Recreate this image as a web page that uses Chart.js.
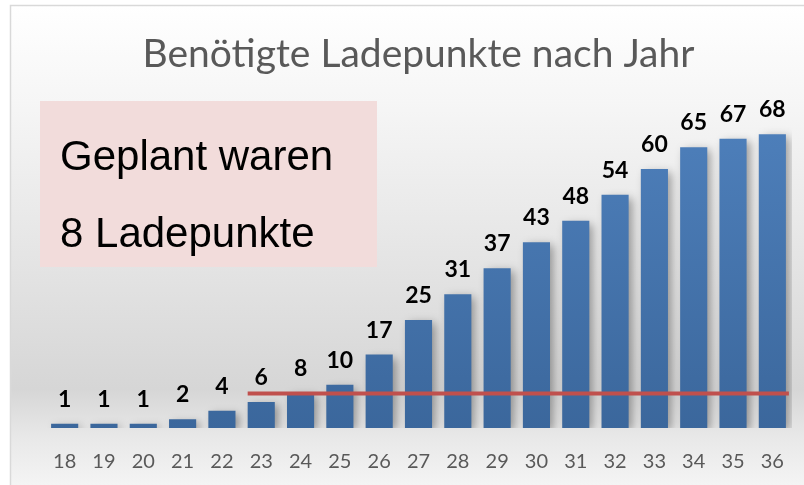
<!DOCTYPE html>
<html lang="de">
<head>
<meta charset="UTF-8">
<title>Benötigte Ladepunkte nach Jahr</title>
<script src="https://cdn.jsdelivr.net/npm/chart.js@4"></script>
<style>
  html, body { margin: 0; padding: 0; background: #fff; }
  #wrap { width: 804px; height: 485px; }
</style>
</head>
<body>
<div id="wrap"><canvas id="chart" width="804" height="485"></canvas></div>
<script>
// data
const years = ['18', '19', '20', '21', '22', '23', '24', '25', '26', '27', '28', '29', '30', '31', '32', '33', '34', '35', '36'];
const ladepunkte = [1, 1, 1, 2, 4, 6, 8, 10, 17, 25, 31, 37, 43, 48, 54, 60, 65, 67, 68];
const geplant = 8;
const geplantStartIndex = 5; // line starts at year 23
const boxLines = ['Geplant waren', '8 Ladepunkte'];

// frame background + bar shadow + labels + red line + pink box
const decor = {
  id: 'decor',
  beforeDraw(chart) {
    const ctx = chart.ctx;
    ctx.save();
    ctx.fillStyle = '#ffffff';
    ctx.fillRect(0, 0, chart.width, chart.height);
    const g = ctx.createLinearGradient(0, 5, 0, 485);
    g.addColorStop(0, '#ffffff');
    g.addColorStop(0.2, '#f6f6f6');
    g.addColorStop(0.8, '#d6d6d6');
    g.addColorStop(0.9, '#e8e8e8');
    g.addColorStop(1, '#f4f4f4');
    ctx.fillStyle = g;
    ctx.fillRect(10, 5, 810, 490);
    ctx.strokeStyle = '#d9d9d9';
    ctx.lineWidth = 1.5;
    ctx.strokeRect(10.5, 5.5, 810, 490);
    ctx.restore();
  },
  beforeDatasetsDraw(chart) {
    const ctx = chart.ctx;
    ctx.save();
    ctx.shadowColor = 'rgba(0,0,0,0.35)';
    ctx.shadowBlur = 9;
    ctx.shadowOffsetX = 4;
    ctx.shadowOffsetY = 3;
  },
  afterDatasetsDraw(chart) {
    const ctx = chart.ctx;
    ctx.restore();
    const meta = chart.getDatasetMeta(0);
    const y = chart.scales.y;

    // red "geplant" line
    const first = meta.data[geplantStartIndex];
    const last = meta.data[meta.data.length - 1];
    const yy = y.getPixelForValue(geplant);
    ctx.save();
    ctx.strokeStyle = '#c0504d';
    ctx.lineWidth = 4;
    ctx.beginPath();
    ctx.moveTo(first.x - first.width / 2, yy);
    ctx.lineTo(last.x + last.width / 2 + 3, yy);
    ctx.stroke();

    // value labels
    ctx.fillStyle = '#000000';
    ctx.font = 'bold 23px Lato';
    ctx.textAlign = 'center';
    ctx.textBaseline = 'alphabetic';
    meta.data.forEach((bar, i) => {
      ctx.fillText(String(ladepunkte[i]), bar.x, bar.y - 17);
    });

    // pink box
    ctx.fillStyle = '#f2dcdb';
    ctx.fillRect(40, 101, 337, 166);
    ctx.fillStyle = '#000000';
    ctx.font = '42px "Liberation Sans"';
    ctx.textAlign = 'left';
    ctx.textBaseline = 'middle';
    ctx.fillText(boxLines[0], 60, 158);
    ctx.fillText(boxLines[1], 60, 235);
    ctx.restore();
  }
};

const ctx = document.getElementById('chart').getContext('2d');
new Chart(ctx, {
  type: 'bar',
  data: {
    labels: years,
    datasets: [{
      data: ladepunkte,
      backgroundColor(c) {
        const area = c.chart.chartArea;
        if (!area) return '#4a7ebb';
        const g = c.chart.ctx.createLinearGradient(0, area.top, 0, area.bottom);
        g.addColorStop(0, '#4f81bd');
        g.addColorStop(1, '#3b679c');
        return g;
      },
      borderWidth: 0,
      categoryPercentage: 1,
      barPercentage: 0.69
    }]
  },
  options: {
    responsive: false,
    animation: false,
    layout: { padding: { left: 45, right: 12, top: 0, bottom: 12 } },
    plugins: {
      legend: { display: false },
      tooltip: { enabled: false },
      title: {
        display: true,
        text: 'Benötigte Ladepunkte nach Jahr',
        color: '#595959',
        font: { family: 'Lato', size: 39, weight: 'normal' },
        padding: { top: 31, bottom: 22 }
      }
    },
    scales: {
      x: {
        grid: { display: false },
        border: { display: false },
        ticks: { color: '#595959', font: { family: 'Lato', size: 20 }, padding: 14 },
        afterFit(scale) { scale.height = 45; }
      },
      y: {
        display: false,
        min: 0,
        max: 76
      }
    }
  },
  plugins: [decor]
});
</script>
</body>
</html>
